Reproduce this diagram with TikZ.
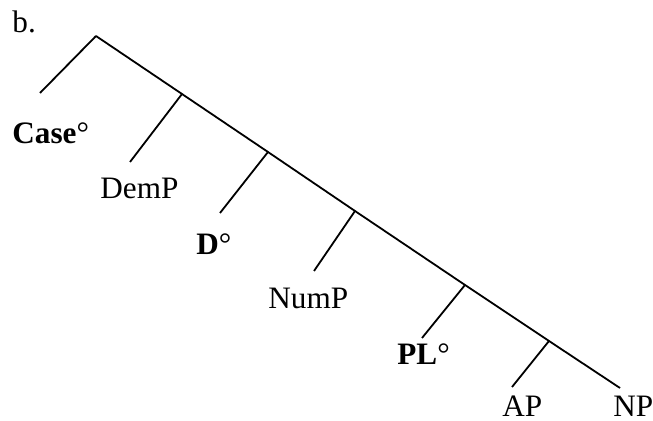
\documentclass[tikz,border=0pt]{standalone}
\usepackage{fontspec}
\setmainfont{Liberation Serif}
\begin{document}
\begin{tikzpicture}[x=0.5pt,y=-0.5pt]
\tikzstyle{etiqueta}=[font=\fontsize{15.6}{18}\selectfont,anchor=base west,inner sep=0pt,text depth=0pt]
\tikzstyle{rama}=[line width=0.9pt]

\useasboundingbox (0,0) rectangle (653,421);
\node[etiqueta] (ej) at (12,33) {b.};
% nudos de la rama derecha
\coordinate (n0) at (96,36);
\coordinate (n1) at (182,94);
\coordinate (n2) at (268,152);
\coordinate (n3) at (355,211);
\coordinate (n4) at (465,285);
\coordinate (n5) at (549,341);
\coordinate (n6) at (620,388);
% extremos de las ramas izquierdas
\coordinate (h0) at (40,93);
\coordinate (h1) at (130,162);
\coordinate (h2) at (220,213);
\coordinate (h3) at (314,271);
\coordinate (h4) at (422,338);
\coordinate (h5) at (512,387);
\node[etiqueta] (case) at (12,144) {\textbf{Case}°};
\node[etiqueta] (demp) at (100,199) {DemP};
\node[etiqueta] (det) at (196,255) {\textbf{D}°};
\node[etiqueta] (nump) at (268,309) {NumP};
\node[etiqueta] (pl) at (397,365) {\textbf{PL}°};
\node[etiqueta] (ap) at (502,417) {AP};
\node[etiqueta] (np) at (613,417) {NP};
\draw[rama] (n0) -- (n1) -- (n2) -- (n3) -- (n4) -- (n5) -- (n6);
\draw[rama] (n0) -- (h0);
\draw[rama] (n1) -- (h1);
\draw[rama] (n2) -- (h2);
\draw[rama] (n3) -- (h3);
\draw[rama] (n4) -- (h4);
\draw[rama] (n5) -- (h5);
\end{tikzpicture}
\end{document}
